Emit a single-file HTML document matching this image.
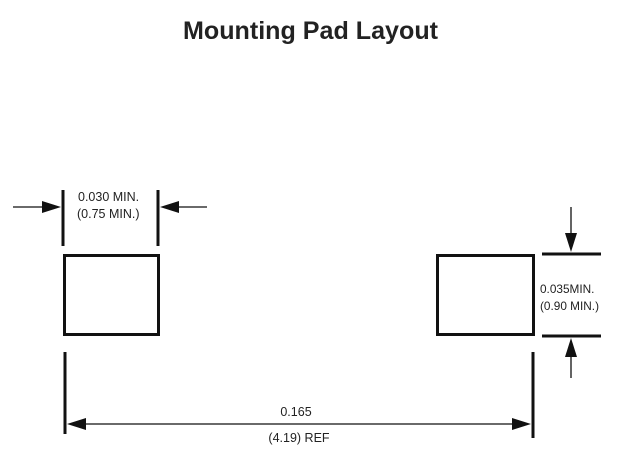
<!DOCTYPE html>
<html><head><style>html,body{margin:0;padding:0;background:#fff}svg{display:block}</style></head><body>
<svg width="630" height="461" viewBox="0 0 630 461" xmlns="http://www.w3.org/2000/svg" font-family="Liberation Sans, sans-serif">
<text x="183" y="39" font-size="25" font-weight="bold" textLength="255" lengthAdjust="spacingAndGlyphs" fill="#222">Mounting Pad Layout</text>
<g stroke="#111" fill="none">
<rect x="64.5" y="255.5" width="94" height="79" stroke-width="3"/>
<rect x="437.5" y="255.5" width="96" height="79" stroke-width="3"/>
<line x1="63" y1="190" x2="63" y2="246" stroke-width="3"/>
<line x1="158" y1="190" x2="158" y2="246" stroke-width="3"/>
<line x1="13" y1="207" x2="50" y2="207" stroke-width="1.3"/>
<line x1="170" y1="207" x2="207" y2="207" stroke-width="1.3"/>
<line x1="542" y1="254" x2="601" y2="254" stroke-width="3"/>
<line x1="542" y1="336" x2="601" y2="336" stroke-width="3"/>
<line x1="571" y1="207" x2="571" y2="240" stroke-width="1.3"/>
<line x1="571" y1="350" x2="571" y2="378" stroke-width="1.3"/>
<line x1="65" y1="352" x2="65" y2="434" stroke-width="3"/>
<line x1="533" y1="352" x2="533" y2="438" stroke-width="3"/>
<line x1="75" y1="424" x2="523" y2="424" stroke-width="1.3"/>
</g>
<g fill="#111">
<polygon points="61,207 42,201 42,213"/>
<polygon points="160,207 179,201 179,213"/>
<polygon points="571,252 565,233 577,233"/>
<polygon points="571,338 565,357 577,357"/>
<polygon points="67,424 86,418 86,430"/>
<polygon points="531,424 512,418 512,430"/>
</g>
<g font-size="12.5" fill="#222">
<text x="78" y="201">0.030 MIN.</text>
<text x="77" y="218">(0.75 MIN.)</text>
<text x="296" y="416" text-anchor="middle">0.165</text>
<text x="299" y="442" text-anchor="middle">(4.19) REF</text>
</g>
<g font-size="11.8" fill="#222">
<text x="540" y="293">0.035MIN.</text>
<text x="540" y="310">(0.90 MIN.)</text>
</g>
</svg>
</body></html>
